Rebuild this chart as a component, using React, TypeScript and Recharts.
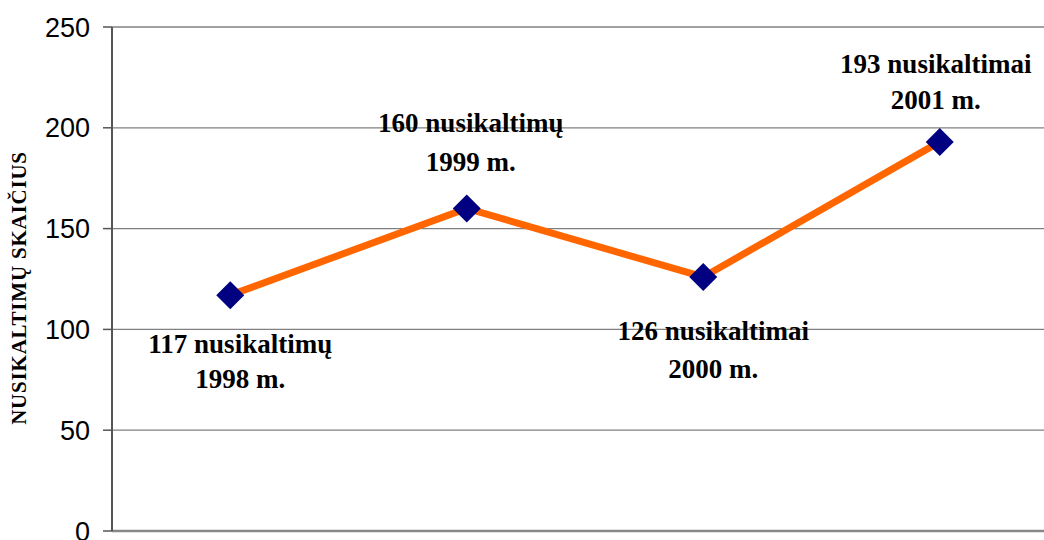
import React from "react";
import {
  LineChart,
  Line,
  XAxis,
  YAxis,
  CartesianGrid,
  LabelList,
} from "recharts";

const years = ["1998", "1999", "2000", "2001"];
const crimes = [117, 160, 126, 193];
const crimeWords = ["nusikaltimų", "nusikaltimų", "nusikaltimai", "nusikaltimai"];
const yTicks = [0, 50, 100, 150, 200, 250];

const data = years.map((year, i) => ({
  year,
  value: crimes[i],
  line1: `${crimes[i]} ${crimeWords[i]}`,
  line2: `${year} m.`,
}));

// label placement relative to the point: [dx, baseline of line 1, baseline of line 2]
const labelOffsets = [
  [10, 58, 93],
  [4, -76, -37],
  [10, 63, 101],
  [-4, -69, -33],
];

const Diamond = (props: any) => {
  const { cx, cy } = props;
  if (cx == null || cy == null) return null;
  const r = 14;
  return (
    <polygon
      points={`${cx},${cy - r} ${cx + r},${cy} ${cx},${cy + r} ${cx - r},${cy}`}
      fill="#000080"
    />
  );
};

const PointLabel = (props: any) => {
  const { x, y, index } = props;
  const d = data[index];
  const [dx, b1, b2] = labelOffsets[index];
  const style = {
    fontFamily: "'Liberation Serif', 'Times New Roman', serif",
    fontWeight: "bold" as const,
    fontSize: 27,
    fill: "#000",
  };
  return (
    <g>
      <text x={x + dx} y={y + b1} textAnchor="middle" {...style}>
        {d.line1}
      </text>
      <text x={x + dx} y={y + b2} textAnchor="middle" {...style}>
        {d.line2}
      </text>
    </g>
  );
};

export default function App() {
  return (
    <div
      style={{
        position: "absolute",
        left: 0,
        top: 0,
        width: 1044,
        height: 540,
        overflow: "hidden",
        background: "#fff",
      }}
    >
      <LineChart
        width={1060}
        height={540}
        data={data}
        margin={{ top: 27, right: 2, bottom: 8, left: 0 }}
      >
        <CartesianGrid horizontal vertical={false} stroke="#808080" strokeWidth={1.3} />
        <XAxis
          dataKey="year"
          scale="band"
          height={1}
          tick={false}
          tickLine={false}
          axisLine={{ stroke: "#888", strokeWidth: 2.5 }}
        />
        <YAxis
          width={112}
          domain={[0, 250]}
          ticks={yTicks}
          interval={0}
          tickSize={9}
          tickMargin={13}
          tick={{ fontFamily: "'Liberation Sans', Arial, sans-serif", fontSize: 27, fill: "#000" }}
          tickLine={{ stroke: "#555", strokeWidth: 1.5 }}
          axisLine={{ stroke: "#555", strokeWidth: 2 }}
          label={() => (
            <text
              x={26}
              y={288}
              transform="rotate(-90 26 288)"
              textAnchor="middle"
              style={{
                fontFamily: "'Liberation Serif', 'Times New Roman', serif",
                fontWeight: "bold",
                fontSize: 21,
                letterSpacing: 0.8,
              }}
              fill="#000"
            >
              NUSIKALTIMŲ SKAIČIUS
            </text>
          )}
        />
        <Line
          dataKey="value"
          type="linear"
          stroke="#FF6600"
          strokeWidth={7}
          dot={<Diamond />}
          activeDot={false}
          isAnimationActive={false}
        >
          <LabelList dataKey="line1" content={<PointLabel />} />
        </Line>
      </LineChart>
    </div>
  );
}
